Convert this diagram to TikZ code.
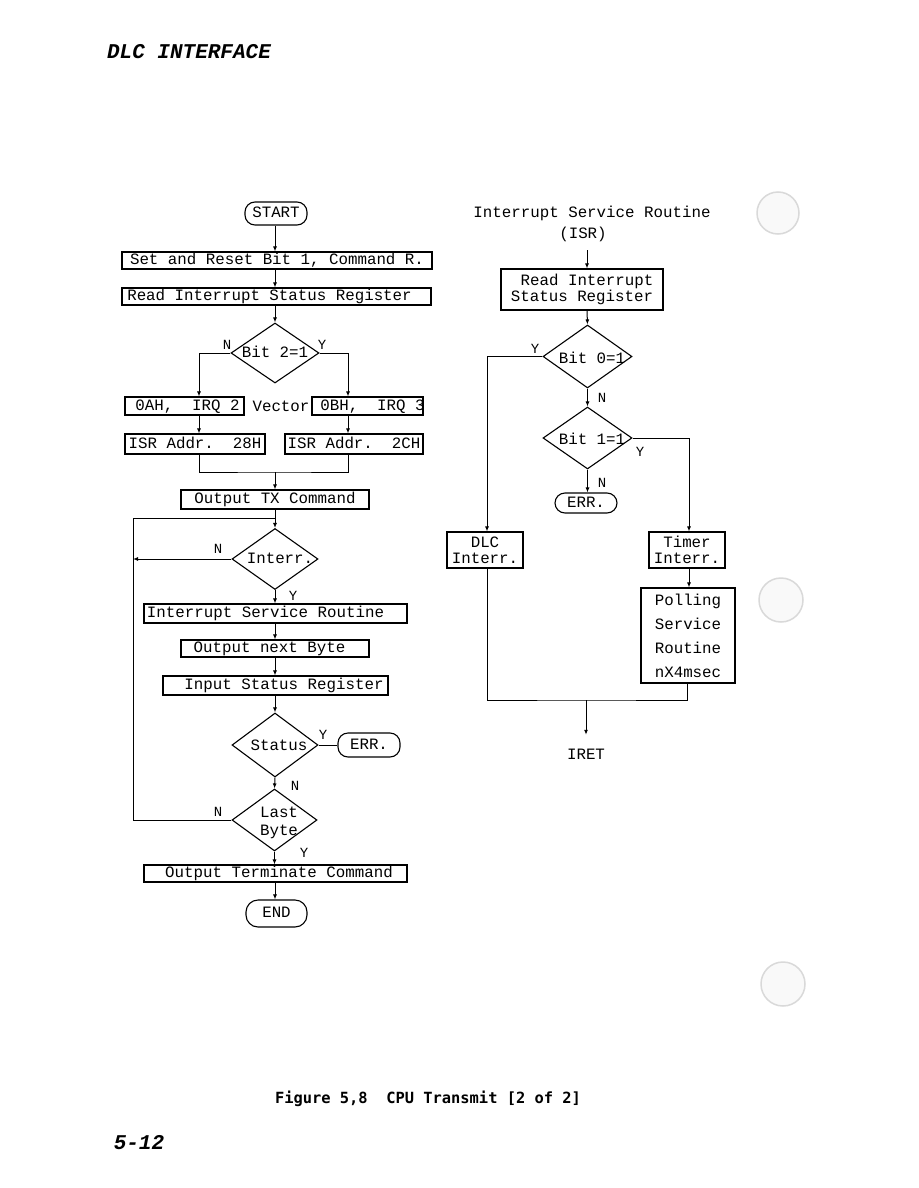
\documentclass[tikz,border=0pt]{standalone}
\usepackage{fontspec}
\setmonofont{Liberation Mono}
\newfontfamily\capfont{DejaVu Sans Mono}
\usetikzlibrary{shapes.geometric,arrows.meta}
\begin{document}
\begin{tikzpicture}[x=1pt,y=-1pt,
  every node/.style={font=\ttfamily\fontsize{15.8}{16}\selectfont, inner sep=0pt},
  one/.style={text height=10pt, text depth=2pt},
  box/.style={draw, rectangle, line width=1.1pt, one},
  mbox/.style={draw, rectangle, line width=1.1pt, align=center},
  term/.style={draw, rectangle, rounded corners=10pt, line width=1.1pt, one},
  dia/.style={draw, diamond, line width=1.1pt},
  ln/.style={line width=1pt},
  arr/.style={line width=1pt, -{Latex[length=5pt,width=4pt]}},
  lbl/.style={font=\ttfamily\fontsize{14}{14}\selectfont, one},
  hole/.style={fill=gray!5, draw=gray!30, line width=1.5pt}
]
\fill[white] (0,0) rectangle (918,1188);
\useasboundingbox (0,0) rectangle (918,1188);

% punch holes
\draw[hole] (778,213) circle (21);
\draw[hole] (781,600) circle (22);
\draw[hole] (783,984) circle (22);

% header and footer
\node[font=\ttfamily\bfseries\itshape\fontsize{21}{21}\selectfont] (hdr) at (189,52) {DLC INTERFACE};
\node[font=\ttfamily\bfseries\itshape\fontsize{21}{21}\selectfont] (pg) at (139,1143) {5-12};
\node[font=\capfont\bfseries\fontsize{15.4}{16}\selectfont] (cap) at (428,1099) {Figure 5,8~~CPU Transmit [2 of 2]};

% ---------------- left flowchart ----------------
\coordinate (stem) at (275,0);
\coordinate (lb) at (199,0);
\coordinate (rb) at (348,0);
\coordinate (lp) at (133,518);

\node[term, minimum width=62, minimum height=23] (start) at (276,213.5) {START};
\node[box, minimum width=310, minimum height=17] (set) at (277,260.5) {Set and Reset Bit 1, Command R.};
\node[box, minimum width=309, minimum height=17] (read) at (276.5,296.5) {\makebox[0pt]{Read Interrupt Status Register\hspace{14pt}}};
\node[dia, minimum width=88, minimum height=60] (d1) at (275,353) {};
\node[one] (d1t) at (275,353) {Bit 2=1};
\node[box, minimum width=119, minimum height=18] (a2) at (184.5,406) {\makebox[0pt]{\hspace{6pt}0AH,~~IRQ 2}};
\node[one] (vec) at (281,407) {Vector};
\node[box, minimum width=111, minimum height=18] (b3) at (367.5,406) {\makebox[0pt]{\hspace{10pt}0BH,~~IRQ 3}};
\node[box, minimum width=140, minimum height=20] (i28) at (195,444) {ISR Addr.~~28H};
\node[box, minimum width=138, minimum height=20] (i2c) at (354,444) {\makebox[0pt]{ISR Addr.~~2CH}};
\coordinate (j1) at (275,472);
\node[box, minimum width=188, minimum height=19] (tx) at (275,499.5) {Output TX Command};
\node[dia, minimum width=86, minimum height=61] (d2) at (275,559) {};
\node[one] (d2t) at (280,559) {Interr.};
\node[box, minimum width=263, minimum height=19] (isr) at (275.5,613.5) {\makebox[0pt]{Interrupt Service Routine\hspace{20pt}}};
\node[box, minimum width=188, minimum height=17] (onb) at (275,648.5) {\makebox[0pt]{Output next Byte\hspace{11pt}}};
\node[box, minimum width=225, minimum height=19] (inp) at (275.5,685.5) {\makebox[0pt]{\hspace{17pt}Input Status Register}};
\node[dia, minimum width=86, minimum height=64] (d3) at (275,745) {};
\node[one] (d3t) at (279,746) {Status};
\node[term, minimum width=62, minimum height=24] (errL) at (369,745) {ERR.};
\node[dia, minimum width=85, minimum height=62] (d4) at (274.5,820) {};
\node[align=center, font=\ttfamily\fontsize{15.8}{18}\selectfont] (d4t) at (279,823) {Last\\Byte};
\node[box, minimum width=263, minimum height=17] (otc) at (275.5,873.5) {\makebox[0pt]{\hspace{7pt}Output Terminate Command}};
\node[term, minimum width=61, minimum height=27, rounded corners=12pt] (end) at (276.5,913.5) {END};

\draw[arr] (start.south -| stem) -- (set.north -| stem);
\draw[arr] (set.south -| stem) -- (read.north -| stem);
\draw[arr] (read.south -| stem) -- (d1.north);
\draw[arr] (d1.west) -| (a2.north -| lb);
\draw[arr] (d1.east) -| (b3.north -| rb);
\draw[arr] (a2.south -| lb) -- (i28.north -| lb);
\draw[arr] (b3.south -| rb) -- (i2c.north -| rb);
\draw[ln] (i28.south -| lb) |- (j1) -| (i2c.south -| rb);
\draw[arr] (j1) -- (tx.north -| stem);
\draw[arr] (tx.south -| stem) -- (d2.north);
\draw[ln] (d4.west) -| (lp) -- (lp -| stem);
\draw[arr] (d2.west) -- (d2.west -| lp);
\draw[arr] (d2.south) -- (isr.north -| stem);
\draw[arr] (isr.south -| stem) -- (onb.north -| stem);
\draw[arr] (onb.south -| stem) -- (inp.north -| stem);
\draw[arr] (inp.south -| stem) -- (d3.north);
\draw[ln] (d3.east) -- (errL.west);
\draw[arr] (d3.south) -- (d4.north);
\draw[arr] (d4.south) -- (otc.north -| d4.south);
\draw[arr] (otc.south -| stem) -- (end.north -| stem);

\node[lbl] (n1) at (227,345) {N};
\node[lbl] (y1) at (322,345) {Y};
\node[lbl] (n2) at (218,549) {N};
\node[lbl] (y2) at (293,596) {Y};
\node[lbl] (y3) at (323,735) {Y};
\node[lbl] (n3) at (295,786) {N};
\node[lbl] (n4) at (218,812) {N};
\node[lbl] (y4) at (304,853) {Y};

% ---------------- right flowchart ----------------
\coordinate (rs) at (587,0);
\coordinate (dl) at (487,0);
\coordinate (tl) at (689,0);
\coordinate (pl) at (687,0);

\node[one] (ttl) at (592,213) {Interrupt Service Routine};
\node[one] (ttl2) at (583,234) {(ISR)};
\coordinate (isrtop) at (587,250);
\node[mbox, minimum width=162, minimum height=41] (rd) at (582,289.5) {\hspace{10pt}Read Interrupt\\Status Register};
\node[dia, minimum width=89, minimum height=63] (d5) at (587.5,356.5) {};
\node[one] (d5t) at (592,359) {Bit 0=1};
\node[dia, minimum width=89, minimum height=62] (d6) at (587.5,438) {};
\node[one] (d6t) at (592,440) {Bit 1=1};
\node[term, minimum width=62, minimum height=20] (errR) at (586,503) {ERR.};
\node[mbox, minimum width=76, minimum height=36] (dlc) at (485,550) {DLC\\Interr.};
\node[mbox, minimum width=76, minimum height=36] (tim) at (687,550) {Timer\\Interr.};
\node[mbox, minimum width=94, minimum height=95, font=\ttfamily\fontsize{15.8}{24}\selectfont] (pol) at (688,635.5) {Polling\\Service\\Routine\\nX4msec};
\coordinate (j2) at (586,700);
\node[one] (iret) at (586,755) {IRET};

\draw[arr] (isrtop) -- (rd.north -| rs);
\draw[arr] (rd.south -| rs) -- (d5.north);
\draw[arr] (d5.west) -| (dlc.north -| dl);
\draw[arr] (d5.south) -- (d6.north);
\draw[arr] (d6.east) -| (tim.north -| tl);
\draw[arr] (d6.south) -- (errR.north -| d6.south);
\draw[arr] (tim.south -| tl) -- (pol.north -| tl);
\draw[ln] (dlc.south -| dl) |- (j2) -| (pol.south -| pl);
\draw[arr] (j2) -- ([yshift=14pt]iret.north);

\node[lbl] (y5) at (535,349) {Y};
\node[lbl] (n5) at (602,398) {N};
\node[lbl] (y6) at (640,452) {Y};
\node[lbl] (n6) at (602,483) {N};
\end{tikzpicture}
\end{document}
